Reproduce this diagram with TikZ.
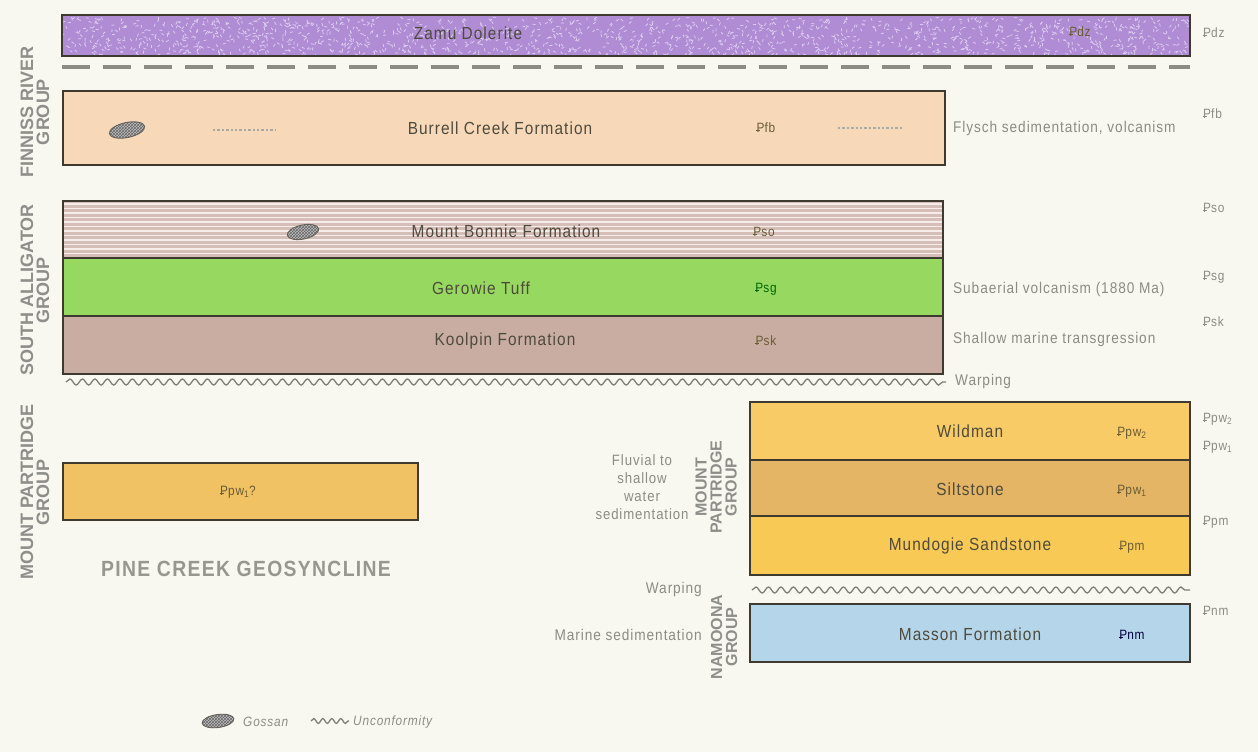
\documentclass[tikz,border=0pt]{standalone}
\usepackage{fontspec}
\setmainfont{Liberation Sans}
\newfontfamily\cond{Liberation Sans}[FakeStretch=0.88,LetterSpace=6]
\usetikzlibrary{patterns,decorations.pathmorphing,shapes.geometric}
\definecolor{bg}{HTML}{F8F8F0}
\definecolor{edge}{HTML}{3E3A30}
\definecolor{zamu}{HTML}{B08CD4}
\definecolor{speck}{HTML}{DCCBF0}
\definecolor{burrell}{HTML}{F7D9B9}
\definecolor{bonnie}{HTML}{D5BDB8}
\definecolor{bonnieline}{HTML}{F6ECEA}
\definecolor{gerowie}{HTML}{97D860}
\definecolor{koolpin}{HTML}{C9ADA2}
\definecolor{pwq}{HTML}{F0C264}
\definecolor{wildman}{HTML}{F8CB66}
\definecolor{silt}{HTML}{E4B565}
\definecolor{mundogie}{HTML}{F8CA55}
\definecolor{masson}{HTML}{B5D6EA}
\definecolor{txt}{HTML}{4E4A3C}
\definecolor{note}{HTML}{8C8C84}
\definecolor{grp}{HTML}{8E8E8A}
\definecolor{sym}{HTML}{6A5C34}
\newcommand{\Pb}{\ooalign{P\cr\kern-0.05em\rule[0.22ex]{0.32em}{0.12ex}\cr}}
\tikzset{
  bed/.style={draw=edge, line width=2.2pt},
  sep/.style={draw=edge, line width=1.2pt},
  lbl/.style={font=\cond\fontsize{17.5}{20}\selectfont, text=txt, inner sep=0pt},
  psym/.style={font=\cond\fontsize{13.5}{15}\selectfont, text=sym, inner sep=0pt},
  rsym/.style={font=\cond\fontsize{13.5}{15}\selectfont, text=note, inner sep=0pt, anchor=west},
  notetext/.style={font=\cond\fontsize{15.5}{18}\selectfont, text=note, inner sep=0pt},
  group/.style={font=\bfseries\fontsize{18}{16}\selectfont, text=grp, rotate=90, align=center, inner sep=0pt},
  rgroup/.style={font=\bfseries\fontsize{16}{15}\selectfont, text=grp, rotate=90, align=center, inner sep=0pt},
  wavy/.style={draw=note!90!black, line width=1.3pt, decorate, decoration={snake, segment length=12.5pt, amplitude=3pt}},
  gossan/.style={ellipse, draw=edge!80, line width=0.9pt, minimum width=36pt, minimum height=15pt, inner sep=0pt,
     preaction={fill=black!25}, pattern=crosshatch, pattern color=black!60},
  chain/.style={draw=note!75, line width=2.4pt, dotted}
}
\begin{document}
\begin{tikzpicture}[x=1pt,y=-1pt]
\fill[bg] (0,0) rectangle (1258,752);
\useasboundingbox (0,0) rectangle (1258,752);

% Zamu Dolerite
\fill[zamu] (62,15) rectangle (1190,56);
\pgfmathsetseed{17}
\foreach \i in {1,...,1500}{
  \pgfmathsetmacro{\xx}{64+1124*rnd}
  \pgfmathsetmacro{\yy}{17+37*rnd}
  \pgfmathsetmacro{\aa}{180*rnd}
  \draw[speck, line width=0.8pt] (\xx,\yy) -- ++(\aa:3);
}
\draw[bed, line width=1.6pt] (62,15) rectangle (1190,56);
\node[lbl] (zamu) at (468,33) {Zamu Dolerite};
\node[psym] (zamusym) at (1080,32) {\Pb dz};
\draw[draw=note, line width=3.5pt, dash pattern=on 28pt off 13pt] (62,67) -- (1190,67);

% Burrell Creek
\fill[burrell] (63,91) rectangle (945,165);
\draw[bed] (63,91) rectangle (945,165);
\node[lbl] (burrell) at (500,128) {Burrell Creek Formation};
\node[psym] (burrellsym) at (766,128) {\Pb fb};
\node[gossan, rotate=12] (goss1) at (127,130) {};
\draw[chain] (213,130) -- (275,130);
\draw[chain] (838,128) -- (902,128);
\node[notetext, anchor=west] (flysch) at (953,128) {Flysch sedimentation, volcanism};

% South Alligator Group
\fill[bonnie] (63,201) rectangle (943,258);
\foreach \y in {204,208.5,...,256}{\draw[bonnieline, line width=1.4pt] (64,\y) -- (942,\y);}
\fill[gerowie] (63,258) rectangle (943,316);
\fill[koolpin] (63,316) rectangle (943,374);
\draw[sep] (63,258) -- (943,258);
\draw[sep] (63,316) -- (943,316);
\draw[bed] (63,201) rectangle (943,374);
\node[gossan, rotate=12, minimum width=32pt, minimum height=14pt] (goss2) at (303,232) {};
\node[lbl] (bonnie) at (506,231) {Mount Bonnie Formation};
\node[psym] (bonniesym) at (764,232) {\Pb so};
\node[lbl] (gerowie) at (481,288) {Gerowie Tuff};
\node[psym, text=green!40!black] (gerowiesym) at (766,289) {\Pb sg};
\node[lbl] (koolpin) at (505,341) {Koolpin Formation};
\node[psym] (koolpinsym) at (766,341) {\Pb sk};
\node[notetext, anchor=west] (subaerial) at (953,289) {Subaerial volcanism (1880 Ma)};
\node[notetext, anchor=west] (shallow) at (953,339) {Shallow marine transgression};
\coordinate (w1a) at (66,382);
\coordinate (w1b) at (946,382);
\draw[wavy] (w1a) -- (w1b);
\node[notetext, anchor=west] (warp1) at (955,381) {Warping};

% Left group labels
\node[group] (finniss) at (35,112) {FINNISS RIVER\\GROUP};
\node[group] (salligator) at (35,290) {SOUTH ALLIGATOR\\GROUP};
\node[group] (mpartl) at (35,492) {MOUNT PARTRIDGE\\GROUP};

% Left Mount Partridge box
\fill[pwq] (63,463) rectangle (418,520);
\draw[bed] (63,463) rectangle (418,520);
\node[psym] (pwqsym) at (238,492) {\Pb pw\textsubscript{1}?};
\node[font=\cond\bfseries\fontsize{22}{24}\selectfont, text=note!90, inner sep=0pt] (pinecreek) at (246,569) {PINE CREEK GEOSYNCLINE};

% Right Mount Partridge block
\fill[wildman] (750,402) rectangle (1190,460);
\fill[silt] (750,460) rectangle (1190,516);
\fill[mundogie] (750,516) rectangle (1190,575);
\draw[sep] (750,460) -- (1190,460);
\draw[sep] (750,516) -- (1190,516);
\draw[bed] (750,402) rectangle (1190,575);
\node[lbl] (wildman) at (970,431) {Wildman};
\node[psym] (wildmansym) at (1132,433) {\Pb pw\textsubscript{2}};
\node[lbl] (silt) at (970,489) {Siltstone};
\node[psym] (siltsym) at (1132,491) {\Pb pw\textsubscript{1}};
\node[lbl] (mundogie) at (970,546) {Mundogie Sandstone};
\node[psym] (mundogiesym) at (1132,547) {\Pb pm};
\node[notetext, align=center, font=\cond\fontsize{15}{18}\selectfont] (fluvial) at (642,487) {Fluvial to\\shallow\\water\\sedimentation};
\node[rgroup] (mpartr) at (716,487) {MOUNT\\PARTRIDGE\\GROUP};

\coordinate (w2a) at (752,590);
\coordinate (w2b) at (1190,590);
\draw[wavy] (w2a) -- (w2b);
\node[notetext, anchor=east] (warp2) at (702,589) {Warping};

% Namoona group
\fill[masson] (750,604) rectangle (1190,662);
\draw[bed] (750,604) rectangle (1190,662);
\node[lbl] (masson) at (970,634) {Masson Formation};
\node[psym, text=blue!25!black] (massonsym) at (1132,635) {\Pb nm};
\node[notetext, anchor=east] (marine) at (702,635) {Marine sedimentation};
\node[rgroup] (namoona) at (724,637) {NAMOONA\\GROUP};

% Right column symbols
\node[rsym] (r1) at (1203,33) {\Pb dz};
\node[rsym] (r2) at (1203,114) {\Pb fb};
\node[rsym] (r3) at (1203,208) {\Pb so};
\node[rsym] (r4) at (1203,277) {\Pb sg};
\node[rsym] (r5) at (1203,322) {\Pb sk};
\node[rsym] (r6) at (1203,419) {\Pb pw\textsubscript{2}};
\node[rsym] (r7) at (1203,447) {\Pb pw\textsubscript{1}};
\node[rsym] (r8) at (1203,522) {\Pb pm};
\node[rsym] (r9) at (1203,611) {\Pb nm};

% Legend
\node[gossan, rotate=8, minimum width=32pt, minimum height=13pt] (leggoss) at (218,721) {};
\node[notetext, font=\cond\itshape\fontsize{13.5}{15}\selectfont, anchor=west] (leggosstxt) at (243,722) {Gossan};
\coordinate (lwa) at (311,721);
\coordinate (lwb) at (349,721);
\draw[wavy, decoration={snake, segment length=9pt, amplitude=2.4pt}] (lwa) -- (lwb);
\node[notetext, font=\cond\itshape\fontsize{13.5}{15}\selectfont, anchor=west] (legwtxt) at (353,722) {Unconformity};
\end{tikzpicture}
\end{document}
